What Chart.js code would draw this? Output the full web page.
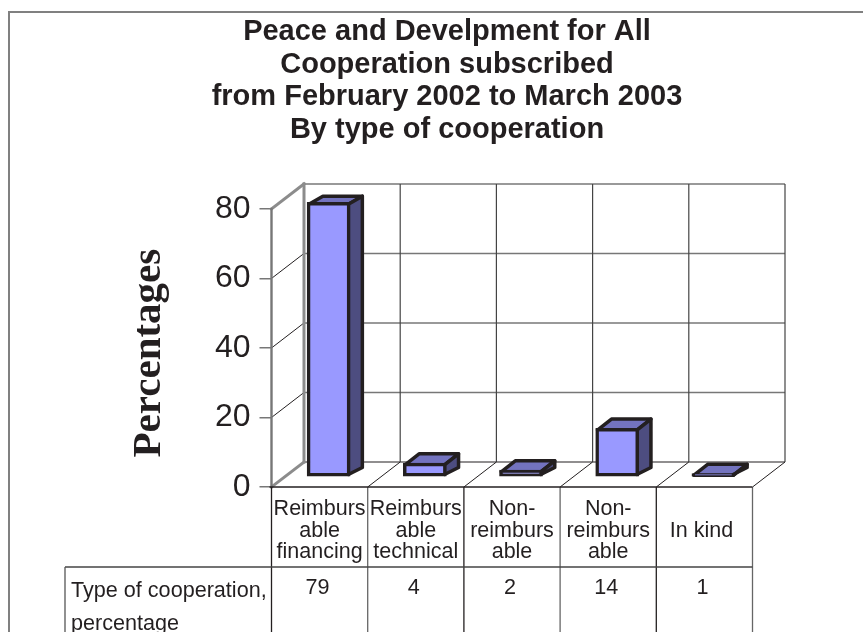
<!DOCTYPE html>
<html>
<head>
<meta charset="utf-8">
<title>Peace and Develpment for All</title>
<script src="https://cdn.jsdelivr.net/npm/chart.js@4/dist/chart.umd.min.js"></script>
<style>
  html, body { margin: 0; padding: 0; background: #fff; }
  #wrap { width: 863px; height: 632px; }
</style>
</head>
<body>
<div id="wrap"><canvas id="chart" width="863" height="632"></canvas></div>
<script>
const titleLines = ['Peace and Develpment for All', 'Cooperation subscribed', 'from February 2002 to March 2003', 'By type of cooperation'];
const categories = [['Reimburs', 'able', 'financing'], ['Reimburs', 'able', 'technical'], ['Non-', 'reimburs', 'able'], ['Non-', 'reimburs', 'able'], ['', 'In kind ', '']];
const values = [79, 4, 2, 14, 1];
const yTicks = [0, 20, 40, 60, 80];
const rowLabel = ['Type of cooperation,', 'percentage'];

const INK = '#231f20';
const GREY = '#808080';
const DEPTH_X = 32.5, DEPTH_Y = 25;     // 3d wall offset
const BAR_DX = 9, BAR_DY = -10;         // bars stand in the middle of the floor

function line(ctx, x1, y1, x2, y2, color, width) {
  ctx.strokeStyle = color;
  ctx.lineWidth = width;
  ctx.beginPath();
  ctx.moveTo(x1, y1);
  ctx.lineTo(x2, y2);
  ctx.stroke();
}

function poly(ctx, pts, fill) {
  ctx.beginPath();
  pts.forEach((p, i) => i ? ctx.lineTo(p[0], p[1]) : ctx.moveTo(p[0], p[1]));
  ctx.closePath();
  ctx.fillStyle = fill;
  ctx.fill();
  ctx.strokeStyle = INK;
  ctx.lineWidth = 3.5;
  ctx.lineJoin = 'round';
  ctx.stroke();
}

// x of the category boundaries, taken from the x scale
function boundaries(scale) {
  const step = scale.getPixelForTick(1) - scale.getPixelForTick(0);
  const out = [scale.getPixelForTick(0) - step / 2];
  categories.forEach((c, i) => out.push(scale.getPixelForTick(i) + step / 2));
  return out;
}

const backdrop = {
  id: 'backdrop',
  afterLayout(chart) {
    // the title is centred on the whole frame, not on the plot
    chart.titleBlock.left = 31;
    chart.titleBlock.right = 863;
  },
  beforeDatasetsDraw(chart) {
    const ctx = chart.ctx, x = chart.scales.x, y = chart.scales.y;
    const a = chart.chartArea;
    const xs = boundaries(x);
    ctx.save();

    // outer frame, cut off by the picture at the right and bottom
    ctx.strokeStyle = GREY;
    ctx.lineWidth = 2;
    ctx.strokeRect(9, 12, 900, 640);

    // back wall
    yTicks.forEach(v => {
      const py = y.getPixelForValue(v);
      line(ctx, a.left + DEPTH_X, py - DEPTH_Y, a.right + DEPTH_X, py - DEPTH_Y, v === 0 ? INK : '#777', v === 0 ? 1.2 : 1.5);
      if (v > 0 && v < 80) line(ctx, a.left, py, a.left + DEPTH_X, py - DEPTH_Y, INK, 1);
    });
    xs.slice(1).forEach(px => {
      line(ctx, px + DEPTH_X, a.top - DEPTH_Y, px + DEPTH_X, a.bottom - DEPTH_Y, '#444', 1.2);
      line(ctx, px, a.bottom, px + DEPTH_X, a.bottom - DEPTH_Y, INK, 1);
    });

    // side wall edges
    ctx.lineCap = 'square';
    line(ctx, a.left, a.top, a.left + DEPTH_X, a.top - DEPTH_Y, '#8c8c8c', 3);
    line(ctx, a.left + DEPTH_X, a.top - DEPTH_Y, a.left + DEPTH_X, a.bottom - DEPTH_Y, '#8c8c8c', 3);
    line(ctx, a.left + DEPTH_X, a.bottom - DEPTH_Y, a.left, a.bottom, '#8c8c8c', 3);
    line(ctx, a.left, a.top, a.left, a.bottom, '#777', 2.4);
    ctx.lineCap = 'butt';

    // table under the chart
    const rowY = a.bottom + 80;
    xs.forEach((px, i) => line(ctx, px, a.bottom, px, 632, i % 2 ? '#666' : INK, 1.3));
    line(ctx, a.left - 2, a.bottom, a.right, a.bottom, INK, 1.6);
    line(ctx, 65, rowY, a.right, rowY, '#444', 1.3);
    line(ctx, 65, rowY, 65, 632, '#555', 1.3);
    ctx.fillStyle = INK;
    ctx.font = '21.6px "Liberation Sans"';
    ctx.textBaseline = 'middle';
    ctx.textAlign = 'left';
    ctx.fillText(rowLabel[0], 71, rowY + 24);
    ctx.fillText(rowLabel[1], 71, rowY + 57);
    ctx.textAlign = 'center';
    values.forEach((v, i) => ctx.fillText(String(v), x.getPixelForTick(i) - 2, rowY + 21));

    // depth faces of the bars
    chart.getDatasetMeta(0).data.forEach((bar, i) => {
      const x0 = bar.x - bar.width / 2 + 1.75 + BAR_DX, x1 = bar.x + bar.width / 2 - 1.75 + BAR_DX;
      const y0 = bar.y + 1.75 + BAR_DY, y1 = bar.base - 1.75 + BAR_DY;
      const dTop = values[i] > 50 ? 8 : 11;
      poly(ctx, [[x0, y0], [x0 + 14, y0 - dTop], [x1 + 14, y0 - dTop], [x1, y0]], '#7373bf');
      poly(ctx, [[x1, y0], [x1 + 14, y0 - dTop], [x1 + 14, y1 - 7], [x1, y1]], '#4d4d80');
    });
    ctx.restore();
  },
  beforeDatasetDraw(chart) {
    chart.ctx.save();
    chart.ctx.translate(BAR_DX, BAR_DY);
  },
  afterDatasetDraw(chart) {
    chart.ctx.restore();
  }
};

new Chart(document.getElementById('chart'), {
  type: 'bar',
  data: {
    labels: categories,
    datasets: [{
      label: 'Type of cooperation, percentage',
      data: values,
      backgroundColor: '#9999ff',
      borderColor: INK,
      borderWidth: 3.5,
      borderSkipped: false,
      barThickness: 43,
      clip: false
    }]
  },
  options: {
    responsive: false,
    animation: false,
    layout: { padding: { left: 31, right: 110.5, top: 0, bottom: 0 } },
    plugins: {
      legend: { display: false },
      tooltip: { enabled: false },
      title: {
        display: true,
        text: titleLines,
        color: INK,
        font: { family: '"Liberation Sans"', size: 29, weight: 'bold', lineHeight: 1.12 },
        padding: { top: 16, bottom: 63 }
      }
    },
    scales: {
      x: {
        grid: { display: false },
        border: { display: false },
        ticks: {
          color: INK,
          font: { family: '"Liberation Sans"', size: 21.5, lineHeight: 0.98 },
          padding: 4,
          maxRotation: 0,
          autoSkip: false
        },
        afterFit(scale) { scale.height = 145; }
      },
      y: {
        min: 0,
        max: 80,
        afterBuildTicks(scale) { scale.ticks = yTicks.map(v => ({ value: v })); },
        grid: { drawOnChartArea: false, color: '#777', lineWidth: 1.5, tickLength: 12 },
        border: { display: false },
        ticks: {
          color: INK,
          font: { family: '"Liberation Sans"', size: 32 },
          padding: 9
        },
        title: {
          display: true,
          text: 'Percentages ',
          color: INK,
          font: { family: '"Liberation Serif"', size: 41, weight: 'bold', lineHeight: 1 },
          padding: { top: 98, bottom: 0 }
        },
        afterFit(scale) { scale.width = 240.5; }
      }
    }
  },
  plugins: [backdrop]
});
</script>
</body>
</html>
